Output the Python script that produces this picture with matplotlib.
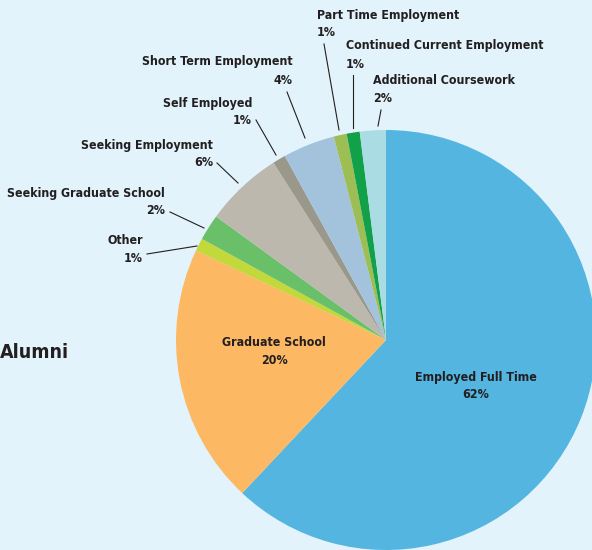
import matplotlib.pyplot as plt
from matplotlib import font_manager

# slices, clockwise from 12 o'clock
labels = ['Employed Full Time', 'Graduate School', 'Other', 'Seeking Graduate School',
          'Seeking Employment', 'Self Employed', 'Short Term Employment',
          'Part Time Employment', 'Continued Current Employment', 'Additional Coursework']
values = [62, 20, 1, 2, 6, 1, 4, 1, 1, 2]
colors = ['#53b5e0', '#fdb863', '#c3d83a', '#6abf69', '#bcb8ad', '#9a988a',
          '#a3c3dd', '#9dbe55', '#12a049', '#aadce4']

BG = '#e2f3fb'
TXT = '#231f20'

# look for a narrow bold face, the original uses a condensed gothic
narrow = None
for f in font_manager.fontManager.ttflist:
    if ('Narrow' in f.name or 'Condensed' in f.name or f.stretch in ('condensed', 'semi-condensed')) \
            and f.weight in (600, 700, 'bold', 'semibold'):
        narrow = f
        break
if narrow is not None:
    FONT = dict(family=[narrow.name, 'DejaVu Sans'], stretch=narrow.stretch, size=8.9)
else:
    FONT = dict(family=['Roboto', 'DejaVu Sans'], size=8.3)

fig = plt.figure(figsize=(5.92, 5.5), dpi=100, facecolor=BG)
ax = fig.add_axes([0, 0, 1, 1])
ax.set_facecolor(BG)

# pixel-like coords, y pointing down
ax.pie(values, colors=colors, center=(386, 340), radius=210,
       startangle=-90, counterclock=True, wedgeprops=dict(linewidth=0))
ax.set_xlim(0, 592)
ax.set_ylim(550, 0)
ax.set_aspect('equal')
ax.axis('off')

# outside labels: (slice index, x, y, align, leader line)
outside = [
    (7, 317, 15, 'left', [(324, 44), (339, 130)]),
    (8, 346, 46, 'left', [(353, 75), (353, 128)]),
    (9, 373, 81, 'left', [(381, 110), (378, 126)]),
    (6, 293, 62, 'right', [(287, 92), (305, 138)]),
    (5, 252, 103, 'right', [(256, 120), (276, 155)]),
    (4, 213, 145, 'right', [(217, 163), (238, 183)]),
    (3, 165, 193, 'right', [(170, 212), (204, 228)]),
    (2, 143, 240, 'right', [(147, 254), (197, 246)]),
]


def label(i, x, y, ha):
    for k, s in enumerate([labels[i], f'{values[i]}%']):
        ax.text(x, y + 18 * k, s, ha=ha, va='center', fontweight='bold', color=TXT,
                fontfamily=FONT['family'], fontstretch=FONT.get('stretch', 'normal'),
                fontsize=FONT['size'])


for i, x, y, ha, line in outside:
    label(i, x, y, ha)
    (x0, y0), (x1, y1) = line
    ax.plot([x0, x1], [y0, y1], color=TXT, lw=0.8)

# inside labels
label(1, 274, 342, 'center')
label(0, 476, 377, 'center')

ax.text(0, 352, 'Alumni', ha='left', va='center', fontsize=14,
        fontweight='bold', color=TXT, fontfamily=FONT['family'],
        fontstretch=FONT.get('stretch', 'normal'))

fig.savefig('out.png', dpi=100, facecolor=BG)
